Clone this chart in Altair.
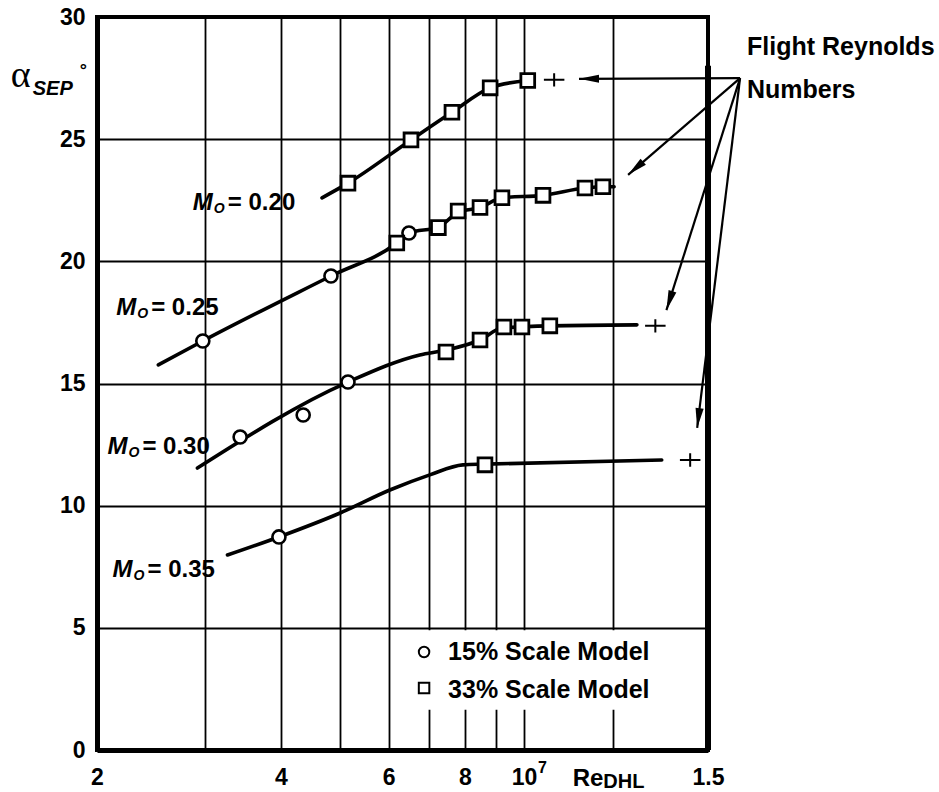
import math
import altair as alt
import pandas as pd

# ---------------- data (Re in millions, alpha in degrees) ----------------
# M0 = 0.20
m20_sq_x = [5.15, 6.53, 7.62, 8.80, 10.14]
m20_sq_y = [23.2, 24.97, 26.1, 27.1, 27.4]
m20_curve_x = [4.67, 5.15, 6.53, 7.62, 8.80, 10.14]
m20_curve_y = [22.6, 23.2, 24.97, 26.1, 27.1, 27.4]

# M0 = 0.25
m25_circ_x = [2.98, 4.83, 6.48]
m25_circ_y = [16.74, 19.4, 21.16]
m25_sq_x = [6.19, 7.24, 7.80, 8.47, 9.20, 10.74, 12.58, 13.46]
m25_sq_y = [20.75, 21.38, 22.06, 22.2, 22.6, 22.7, 23.0, 23.05]
m25_curve_x = [2.52, 2.98, 4.83, 6.19, 6.48, 7.24, 7.80, 8.47, 9.20, 10.74, 12.58, 13.46, 14.04]
m25_curve_y = [15.76, 16.74, 19.4, 20.75, 21.16, 21.4, 22.0, 22.2, 22.6, 22.7, 23.0, 23.05, 23.05]

# M0 = 0.30
m30_circ_x = [3.43, 4.35, 5.15]
m30_circ_y = [12.81, 13.71, 15.06]
m30_sq_x = [7.45, 8.47, 9.27, 9.92, 11.02]
m30_sq_y = [16.29, 16.78, 17.31, 17.31, 17.36]
m30_curve_x = [2.92, 5.15, 6.75, 7.45, 8.47, 9.20, 11.02, 15.3]
m30_curve_y = [11.54, 15.06, 16.17, 16.37, 16.78, 17.27, 17.36, 17.4]

# M0 = 0.35
m35_circ_x = [3.97]
m35_circ_y = [8.72]
m35_sq_x = [8.63]
m35_sq_y = [11.67]
m35_curve_x = [3.27, 3.97, 5.0, 6.03, 7.01, 7.94, 8.63, 16.8]
m35_curve_y = [7.98, 8.72, 9.70, 10.64, 11.26, 11.67, 11.7, 11.87]

# Flight Reynolds numbers (+ symbols)
flight_x = [11.2, 16.4, 18.7]
flight_y = [27.43, 17.36, 11.87]

# Arrows from the "Flight Reynolds Numbers" note
arrow_from = (22.57, 27.5)
arrow_tip_x = [12.3, 14.8, 17.1, 19.2]
arrow_tip_y = [27.47, 23.54, 18.0, 13.18]

mach_names = ["= 0.20", "= 0.25", "= 0.30", "= 0.35"]
mach_lx = [2.87, 2.15, 2.08, 2.12]
mach_ly = [22.4, 18.1, 12.4, 7.37]

x_grid = [2, 3, 4, 5, 6, 7, 8, 9, 10, 14, 20]
y_ticks = [0, 5, 10, 15, 20, 25, 30]

W, H = 611, 733
XDOM = [2, 20]
YDOM = [0, 30]

xs = alt.Scale(type="log", domain=XDOM, nice=False)
ys = alt.Scale(domain=YDOM, nice=False, zero=False)

FONT = "Liberation Sans"


def px(x):
    return W * math.log10(x / XDOM[0]) / math.log10(XDOM[1] / XDOM[0])


def py(y):
    return H * (YDOM[1] - y) / (YDOM[1] - YDOM[0])


# ---------------- tables ----------------
curves = []
for name, cx, cy in [("0.20", m20_curve_x, m20_curve_y), ("0.25", m25_curve_x, m25_curve_y),
                     ("0.30", m30_curve_x, m30_curve_y), ("0.35", m35_curve_x, m35_curve_y)]:
    for i, (a, b) in enumerate(zip(cx, cy)):
        curves.append({"m": name, "x": a, "y": b, "o": i})
curves = pd.DataFrame(curves)

circ = pd.DataFrame({"x": m25_circ_x + m30_circ_x + m35_circ_x,
                     "y": m25_circ_y + m30_circ_y + m35_circ_y})
sq = pd.DataFrame({"x": m20_sq_x + m25_sq_x + m30_sq_x + m35_sq_x,
                   "y": m20_sq_y + m25_sq_y + m30_sq_y + m35_sq_y})
flight = pd.DataFrame({"x": flight_x, "y": flight_y})

arr_rows = []
for tx, ty in zip(arrow_tip_x, arrow_tip_y):
    dx = px(tx) - px(arrow_from[0])
    dy = py(ty) - py(arrow_from[1])
    ang = math.degrees(math.atan2(dx, -dy)) % 360
    arr_rows.append({"x": arrow_from[0], "y": arrow_from[1], "x2": tx, "y2": ty, "ang": ang})
arrows = pd.DataFrame(arr_rows)

mach = pd.DataFrame({"x": mach_lx, "y": mach_ly, "t": mach_names})

# ---------------- layers ----------------
X = alt.X("x:Q", scale=xs, axis=alt.Axis(
    values=x_grid, title=None, grid=True, labelOverlap=False, labelFlush=False,
    labelPadding=16,
    labelExpr="datum.value == 2 ? '2' : datum.value == 4 ? '4' : datum.value == 6 ? '6' : "
              "datum.value == 8 ? '8' : datum.value == 10 ? '10' : datum.value == 20 ? '1.5' : ''"))
Y = alt.Y("y:Q", scale=ys, axis=alt.Axis(values=y_ticks, title=None, grid=True, labelPadding=12))

legend_box = alt.Chart(pd.DataFrame({"x": [6.15], "x2": [19.8], "y": [1.65], "y2": [4.9]})).mark_rect(
    color="white").encode(x=X, x2="x2:Q", y=Y, y2="y2:Q")

lines = alt.Chart(curves).mark_line(color="black", strokeWidth=3.6, strokeCap="round",
                                    interpolate="monotone").encode(
    x=alt.X("x:Q", scale=xs), y=alt.Y("y:Q", scale=ys), detail="m:N", order="o:Q")

circles = alt.Chart(circ).mark_point(shape="circle", size=170, filled=True, fill="white",
                                     stroke="black", strokeWidth=2.6, opacity=1).encode(
    x=alt.X("x:Q", scale=xs), y=alt.Y("y:Q", scale=ys))

squares = alt.Chart(sq).mark_point(shape="square", size=190, filled=True, fill="white",
                                   stroke="black", strokeWidth=2.8, opacity=1).encode(
    x=alt.X("x:Q", scale=xs), y=alt.Y("y:Q", scale=ys))

plus = alt.Chart(flight).mark_point(shape="M-1,0L1,0M0,-0.65L0,0.65", size=420, filled=False,
                                    stroke="black", strokeWidth=2, opacity=1).encode(
    x=alt.X("x:Q", scale=xs), y=alt.Y("y:Q", scale=ys))

shafts = alt.Chart(arrows).mark_rule(color="black", strokeWidth=2.2).encode(
    x=alt.X("x:Q", scale=xs), y=alt.Y("y:Q", scale=ys), x2="x2:Q", y2="y2:Q")

heads = alt.Chart(arrows).mark_point(shape="M0,0L0.45,2.2L-0.45,2.2Z", size=330, filled=True,
                                     color="black", opacity=1).encode(
    x=alt.X("x2:Q", scale=xs), y=alt.Y("y2:Q", scale=ys), angle=alt.Angle("ang:Q", scale=None))

right_edge = alt.Chart(pd.DataFrame({"x": [20], "y": [0], "y2": [28.0]})).mark_rule(
    color="black", strokeWidth=6).encode(x=alt.X("x:Q", scale=xs), y=alt.Y("y:Q", scale=ys), y2="y2:Q")

# Mach labels
m_txt = alt.Chart(mach).mark_text(text="M", font=FONT, fontSize=24, fontWeight="bold",
                                  fontStyle="italic", align="left", baseline="middle").encode(
    x=alt.X("x:Q", scale=xs), y=alt.Y("y:Q", scale=ys))
o_txt = alt.Chart(mach).mark_text(text="O", font=FONT, fontSize=14, fontWeight="bold",
                                  fontStyle="italic", align="left", baseline="middle", dx=21, dy=6).encode(
    x=alt.X("x:Q", scale=xs), y=alt.Y("y:Q", scale=ys))
v_txt = alt.Chart(mach).mark_text(font=FONT, fontSize=24, fontWeight="bold",
                                  align="left", baseline="middle", dx=35).encode(
    x=alt.X("x:Q", scale=xs), y=alt.Y("y:Q", scale=ys), text="t:N")

# Legend
leg_c = alt.Chart(pd.DataFrame({"x": [6.86], "y": [4.01]})).mark_point(
    shape="circle", size=110, filled=True, fill="white", stroke="black", strokeWidth=2, opacity=1).encode(
    x=alt.X("x:Q", scale=xs), y=alt.Y("y:Q", scale=ys))
leg_s = alt.Chart(pd.DataFrame({"x": [6.86], "y": [2.54]})).mark_point(
    shape="square", size=110, filled=True, fill="white", stroke="black", strokeWidth=2, opacity=1).encode(
    x=alt.X("x:Q", scale=xs), y=alt.Y("y:Q", scale=ys))
leg_t = alt.Chart(pd.DataFrame({"x": [7.51, 7.51], "y": [4.01, 2.46],
                                "t": ["15% Scale Model", "33% Scale Model"]})).mark_text(
    font=FONT, fontSize=25, fontWeight="bold", align="left", baseline="middle").encode(
    x=alt.X("x:Q", scale=xs), y=alt.Y("y:Q", scale=ys), text="t:N")

# Flight Reynolds Numbers note
note = alt.Chart(pd.DataFrame({"x": [23.17, 23.17], "y": [28.78, 27.02],
                               "t": ["Flight Reynolds", "Numbers"]})).mark_text(
    font=FONT, fontSize=25, fontWeight="bold", align="left", baseline="middle").encode(
    x=alt.X("x:Q", scale=xs), y=alt.Y("y:Q", scale=ys), text="t:N")

# y-axis title alpha_SEP degrees
alpha = alt.Chart(pd.DataFrame({"x": [1.50], "y": [27.14]})).mark_text(
    text="\u03b1", font="Liberation Serif", fontSize=38, align="center", baseline="alphabetic").encode(
    x=alt.X("x:Q", scale=xs), y=alt.Y("y:Q", scale=ys))
sep = alt.Chart(pd.DataFrame({"x": [1.57], "y": [26.81]})).mark_text(
    text="SEP", font=FONT, fontSize=20, fontWeight="bold", fontStyle="italic",
    align="left", baseline="alphabetic").encode(
    x=alt.X("x:Q", scale=xs), y=alt.Y("y:Q", scale=ys))
deg = alt.Chart(pd.DataFrame({"x": [1.90], "y": [27.6]})).mark_text(
    text="\u00b0", font=FONT, fontSize=18, fontWeight="bold", align="center", baseline="alphabetic").encode(
    x=alt.X("x:Q", scale=xs), y=alt.Y("y:Q", scale=ys))

# exponent of the 10^7 tick label
exp7 = alt.Chart(pd.DataFrame({"x": [10], "y": [-0.72]})).mark_text(
    text="7", font=FONT, fontSize=16, fontWeight="bold", align="left", baseline="middle", dx=14).encode(
    x=alt.X("x:Q", scale=xs), y=alt.Y("y:Q", scale=ys))

# x-axis title Re_DHL
re_t = alt.Chart(pd.DataFrame({"x": [14], "y": [-1.2]})).mark_text(
    text="Re", font=FONT, fontSize=24, fontWeight="bold", align="right", baseline="middle", dx=-10).encode(
    x=alt.X("x:Q", scale=xs), y=alt.Y("y:Q", scale=ys))
dhl_t = alt.Chart(pd.DataFrame({"x": [14], "y": [-1.2]})).mark_text(
    text="DHL", font=FONT, fontSize=20, fontWeight="bold", align="left", baseline="middle", dx=-10, dy=3).encode(
    x=alt.X("x:Q", scale=xs), y=alt.Y("y:Q", scale=ys))

base = alt.Chart(pd.DataFrame({"x": [2], "y": [0]})).mark_point(opacity=0).encode(x=X, y=Y)

chart = alt.layer(
    base, legend_box, lines, circles, squares, plus, shafts, heads, right_edge,
    m_txt, o_txt, v_txt, leg_c, leg_s, leg_t, note, alpha, sep, deg, exp7, re_t, dhl_t
).properties(
    width=W, height=H,
    autosize=alt.AutoSizeParams(type="none"),
    padding={"left": 97, "top": 17, "right": 231, "bottom": 42},
    background="white",
).configure_view(
    stroke="black", strokeWidth=4
).configure_axis(
    gridColor="black", gridWidth=1.8, gridOpacity=1,
    domainColor="black", domainWidth=5,
    ticks=False,
    labelFont=FONT, labelFontSize=23, labelFontWeight="bold", labelColor="black",
)

chart.save("out.html", embed_options={"renderer": "svg", "actions": False})
